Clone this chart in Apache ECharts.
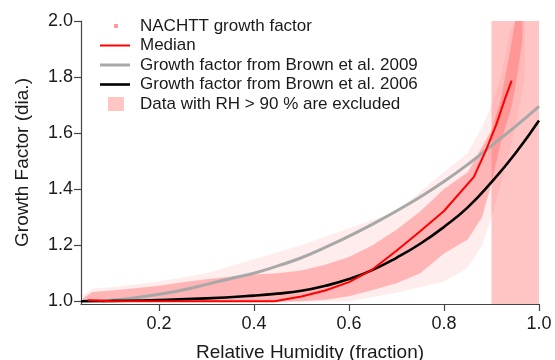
<!DOCTYPE html>
<html>
<head>
<meta charset="utf-8">
<script src="https://cdn.jsdelivr.net/npm/echarts@6/dist/echarts.min.js"></script>
<style>
  html, body { margin: 0; padding: 0; background: #fff; }
  #chart { width: 555px; height: 360px; }
</style>
</head>
<body>
<div id="chart"></div>
<script>
// Tick values for both axes
const xTicks = [0.2, 0.4, 0.6, 0.8, 1.0];
const yTicks = [1.0, 1.2, 1.4, 1.6, 1.8, 2.0];

// Parameterised growth factor curves (RH fraction, growth factor)
const brown2009X = [0.08, 0.1, 0.15, 0.2, 0.25, 0.3, 0.35, 0.4, 0.45, 0.5, 0.55, 0.6, 0.65, 0.7, 0.75, 0.8, 0.85, 0.9, 0.95, 1.0];
const brown2009Y = [1.0, 1.003, 1.012, 1.025, 1.04, 1.06, 1.08, 1.10, 1.126, 1.155, 1.192, 1.232, 1.275, 1.322, 1.372, 1.427, 1.488, 1.555, 1.623, 1.695];

const brown2006X = [0.036, 0.1, 0.2, 0.3, 0.4, 0.45, 0.5, 0.55, 0.6, 0.65, 0.7, 0.75, 0.8, 0.85, 0.9, 0.95, 1.0];
const brown2006Y = [1.0, 1.001, 1.004, 1.01, 1.02, 1.027, 1.037, 1.055, 1.079, 1.112, 1.155, 1.205, 1.265, 1.335, 1.425, 1.527, 1.645];

// Binned median of the NACHTT growth factors
const medianX = [0.05, 0.1, 0.2, 0.3, 0.4, 0.444, 0.47, 0.5, 0.55, 0.6, 0.65, 0.7, 0.75, 0.8, 0.863, 0.89, 0.91, 0.93, 0.9425];
const medianY = [1.003, 1.0, 1.0, 1.0, 1.0, 1.0, 1.008, 1.017, 1.038, 1.068, 1.114, 1.18, 1.25, 1.322, 1.444, 1.545, 1.63, 1.73, 1.787];

// NACHTT growth factor cloud: dense core and sparse outer envelope per RH bin
const coreX  = [0.04, 0.06, 0.1, 0.15, 0.2, 0.25, 0.3, 0.35, 0.4, 0.45, 0.5, 0.55, 0.6, 0.65, 0.7, 0.75, 0.8, 0.85, 0.88, 0.9, 0.92, 0.94, 0.95, 0.965];
const coreLo = [1.0, 0.998, 0.998, 0.998, 0.998, 0.998, 0.998, 0.998, 0.998, 0.998, 1.0, 1.005, 1.018, 1.04, 1.064, 1.1, 1.17, 1.22, 1.30, 1.42, 1.57, 1.68, 1.76, 1.93];
const coreHi = [1.01, 1.033, 1.038, 1.046, 1.055, 1.068, 1.078, 1.087, 1.095, 1.1, 1.11, 1.13, 1.158, 1.2, 1.255, 1.32, 1.40, 1.46, 1.55, 1.61, 1.72, 1.9, 2.0, 2.0];

const outerX  = [0.04, 0.06, 0.1, 0.2, 0.3, 0.4, 0.5, 0.6, 0.7, 0.8, 0.85, 0.88, 0.9, 0.92, 0.94, 0.95, 0.97];
const outerLo = [1.0, 0.998, 0.998, 0.998, 0.998, 0.998, 0.998, 1.0, 1.03, 1.07, 1.12, 1.2, 1.3, 1.42, 1.55, 1.62, 1.8];
const outerHi = [1.02, 1.045, 1.05, 1.07, 1.10, 1.15, 1.2, 1.26, 1.32, 1.46, 1.53, 1.62, 1.7, 1.8, 1.97, 2.0, 2.0];

// Excluded RH range
const excludedRH = [0.9, 1.0];

const FONT = '"Liberation Sans", Arial, sans-serif';
const pair = (xs, ys) => xs.map((x, i) => [x, ys[i]]);

function band(name, xs, lo, hi, fill, z) {
  return {
    type: 'custom', name, z, silent: true, clip: true,
    data: [[xs[0], lo[0]]],
    renderItem: (params, api) => {
      const pts = [];
      xs.forEach((x, i) => pts.push(api.coord([x, hi[i]])));
      for (let i = xs.length - 1; i >= 0; i--) pts.push(api.coord([xs[i], lo[i]]));
      return { type: 'polygon', shape: { points: pts }, style: { fill } };
    }
  };
}

const chart = echarts.init(document.getElementById('chart'), null, { renderer: 'canvas' });

const legendRows = [
  { y: 26,  text: 'NACHTT growth factor' },
  { y: 45.5, text: 'Median' },
  { y: 65,  text: 'Growth factor from Brown et al. 2009' },
  { y: 84.5, text: 'Growth factor from Brown et al. 2006' },
  { y: 104, text: 'Data with RH > 90 % are excluded' }
];

chart.setOption({
  animation: false,
  backgroundColor: '#fff',
  grid: { left: 81, right: 16, top: 21, bottom: 56, outerBoundsMode: 'none', containLabel: false },
  xAxis: {
    type: 'value', min: 0.036, max: 1.0,
    name: 'Relative Humidity (fraction)', nameLocation: 'middle', nameGap: 39,
    nameTextStyle: { fontFamily: FONT, fontSize: 19, color: '#1a1a1a' },
    axisLine: { show: true, lineStyle: { color: '#444', width: 1.2 } },
    axisTick: { show: true, length: 7, customValues: xTicks, lineStyle: { color: '#444', width: 1.2 } },
    axisLabel: { customValues: xTicks, fontFamily: FONT, fontSize: 18, color: '#1a1a1a', margin: 11,
                 formatter: v => v.toFixed(1) },
    splitLine: { show: false }
  },
  yAxis: {
    type: 'value', min: 0.99, max: 2.0,
    name: 'Growth Factor (dia.)', nameLocation: 'middle', nameGap: 49,
    nameTextStyle: { fontFamily: FONT, fontSize: 19, color: '#1a1a1a' },
    axisLine: { show: true, lineStyle: { color: '#444', width: 1.2 } },
    axisTick: { show: true, length: 7, customValues: yTicks, lineStyle: { color: '#444', width: 1.2 } },
    axisLabel: { customValues: yTicks, fontFamily: FONT, fontSize: 18, color: '#1a1a1a', margin: 8,
                 formatter: v => v.toFixed(1) },
    splitLine: { show: false }
  },
  series: [
    {
      type: 'line', name: 'excluded', data: [], z: 1, silent: true,
      markArea: {
        silent: true,
        itemStyle: { color: '#ffc4c4' },
        data: [[{ xAxis: excludedRH[0], yAxis: 0.99 }, { xAxis: excludedRH[1], yAxis: 2.0 }]]
      }
    },
    band('NACHTT outer', outerX, outerLo, outerHi, 'rgba(255,120,120,0.14)', 2),
    band('NACHTT core', coreX, coreLo, coreHi, 'rgba(255,105,105,0.42)', 3),
    {
      type: 'line', name: 'Brown 2009', data: pair(brown2009X, brown2009Y), smooth: true,
      showSymbol: false, z: 5, lineStyle: { color: '#a8a8a8', width: 3 }
    },
    {
      type: 'line', name: 'Brown 2006', data: pair(brown2006X, brown2006Y), smooth: true,
      showSymbol: false, z: 6, lineStyle: { color: '#000', width: 2.6 }
    },
    {
      type: 'line', name: 'Median', data: pair(medianX, medianY),
      showSymbol: false, z: 7, lineStyle: { color: '#ff0000', width: 2 }
    }
  ],
  graphic: [
    { type: 'rect', shape: { x: 114, y: 24, width: 4, height: 4 }, style: { fill: '#ff9a9a' } },
    { type: 'line', shape: { x1: 100, y1: 45.5, x2: 130, y2: 45.5 }, style: { stroke: '#ff0000', lineWidth: 2 } },
    { type: 'line', shape: { x1: 100, y1: 65, x2: 130, y2: 65 }, style: { stroke: '#a8a8a8', lineWidth: 3 } },
    { type: 'line', shape: { x1: 100, y1: 84.5, x2: 130, y2: 84.5 }, style: { stroke: '#000', lineWidth: 2.6 } },
    { type: 'rect', shape: { x: 108, y: 97, width: 16, height: 14 }, style: { fill: '#ffc4c4' } }
  ].concat(legendRows.map(r => ({
    type: 'text', x: 140, y: r.y,
    style: { text: r.text, fontFamily: FONT, fontSize: 17, fill: '#1a1a1a', verticalAlign: 'middle' }
  })))
});
</script>
</body>
</html>
